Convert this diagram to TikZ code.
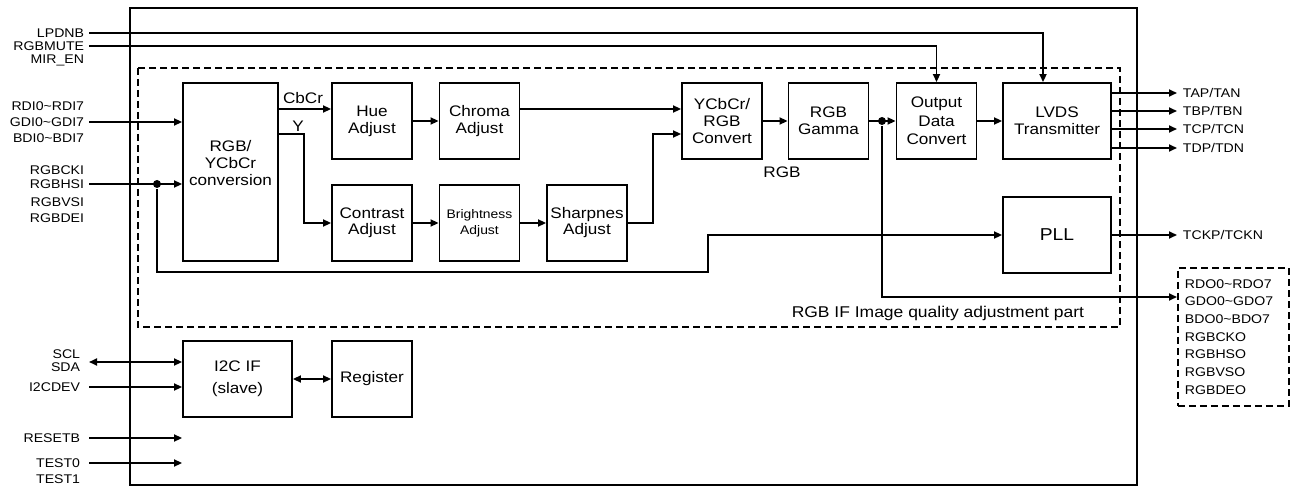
\documentclass[tikz,border=0pt]{standalone}
\usepackage{fontspec}
\setmainfont{Liberation Sans}[FakeStretch=1.12]
\usetikzlibrary{arrows.meta}

\begin{document}
\begin{tikzpicture}[x=1pt, y=-1pt, line width=1.9pt, >={Triangle[length=8pt, width=7pt]},
    blk/.style={draw, align=center, inner sep=0pt, minimum width=80pt, minimum height=76pt,
      font=\fontsize{15.3}{17}\selectfont},
    pin/.style={inner xsep=4pt, inner ysep=1pt, font=\fontsize{12.6}{14}\selectfont},
    rpin/.style={pin, anchor=west, inner xsep=5pt},
    dot/.style={circle, fill=black, inner sep=0pt, minimum size=8pt},
    grp/.style={draw, dash pattern=on 7pt off 4pt}]
      \useasboundingbox (0,0) rectangle (1295,489);

      % chip outline and image quality part
      \draw (130,8) rectangle (1137,485);
      \draw[grp] (138,68) rectangle (1120,327);
      \node[anchor=east, inner sep=0pt, font=\fontsize{15.6}{17}\selectfont] (grplbl) at (1085,313) {RGB IF Image quality adjustment part};

      % blocks
      \node[blk, minimum width=95pt, minimum height=178pt] (conv) at (230.5,172) {RGB/\\YCbCr\\conversion\\[2pt]};
      \node[blk] (hue) at (372,121) {Hue\\Adjust};
      \node[blk] (chroma) at (479.5,121) {Chroma\\Adjust};
      \node[blk, font=\fontsize{15.3}{16}\selectfont] (contrast) at (372,223) {Contrast\\Adjust};
      \node[blk, font=\fontsize{12.4}{16}\selectfont] (bright) at (479.5,223) {Brightness\\Adjust};
      \node[blk, font=\fontsize{15.3}{16}\selectfont] (sharp) at (587,223) {Sharpnes\\Adjust};
      \node[blk] (ycc) at (722,121) {YCbCr/\\RGB\\Convert};
      \node[blk] (gamma) at (828.5,121) {RGB\\Gamma};
      \node[blk, font=\fontsize{15.3}{18.3}\selectfont] (outc) at (936.5,121) {Output\\Data\\Convert};
      \node[blk, minimum width=108pt] (lvds) at (1057,121) {LVDS\\Transmitter};
      \node[blk, minimum width=108pt, font=\fontsize{17.2}{19}\selectfont] (pll) at (1057,235) {PLL};
      \node[blk, minimum width=109pt, font=\fontsize{15.3}{22}\selectfont] (i2c) at (237.5,379) {I2C IF\\(slave)};
      \node[blk] (reg) at (372,379) {Register};

      % internal data path
      \node[font=\fontsize{15.3}{17}\selectfont, inner sep=0pt] (cbcr) at (303,98) {CbCr};
      \node[font=\fontsize{15.3}{17}\selectfont, inner sep=0pt] (ylbl) at (298,126) {Y};
      \draw[->] (conv.east |- 0,109) -- (hue.west |- 0,109);
      \draw[->] (conv.east |- 0,134) -- (304,134) |- (contrast.west);
      \draw[->] (hue) -- (chroma);
      \draw[->] (contrast) -- (bright);
      \draw[->] (bright) -- (sharp);
      \draw[->] (chroma.east |- 0,109) -- (ycc.west |- 0,109);
      \draw[->] (sharp.east) -- (653,223) |- (ycc.west |- 0,134);
      \draw[->] (ycc) -- (gamma);
      \node[font=\fontsize{15.3}{17}\selectfont, inner sep=0pt] (rgblbl) at (782,172) {RGB};
      \node[dot] (gdot) at (882,121) {};
      \draw[->] (gamma) -- (outc);
      \draw[->] (outc) -- (lvds);

      % control inputs
      \node[pin, anchor=east] (lpdnb) at (89,33) {LPDNB};
      \node[pin, anchor=east] (mute) at (89,46) {RGBMUTE};
      \node[pin, anchor=east] (miren) at (89,60) {MIR\_EN};
      \draw[->] (lpdnb.east) -| (lvds.north -| 1043,0);
      \draw[->] (mute.east) -| (outc.north);

      % RGB inputs
      \node[pin, anchor=east] (rdi) at (89,106) {RDI0\textasciitilde RDI7};
      \node[pin, anchor=east] (gdi) at (89,122) {GDI0\textasciitilde GDI7};
      \node[pin, anchor=east] (bdi) at (89,138) {BDI0\textasciitilde BDI7};
      \draw[->] (gdi.east) -- (conv.west |- gdi.east);
      \node[pin, anchor=east] (cki) at (89,170) {RGBCKI};
      \node[pin, anchor=east] (hsi) at (89,184) {RGBHSI};
      \node[pin, anchor=east] (vsi) at (89,202) {RGBVSI};
      \node[pin, anchor=east] (dei) at (89,218) {RGBDEI};
      \draw[->] (hsi.east) -- (conv.west |- hsi.east);
      \node[dot] (hdot) at (157,184) {};
      \draw[->] (hdot) |- (708,272) |- (pll.west);

      % LVDS outputs
      \foreach \yy/\ch in {93/A,111/B,129/C,148/D}{
        \node[rpin] (t\ch) at (1177,\yy) {T\ch P/T\ch N};
        \draw[->] (lvds.east |- t\ch.west) -- (t\ch.west);
      }
      \node[rpin] (tck) at (1177,235) {TCKP/TCKN};
      \draw[->] (pll.east) -- (tck.west);

      % RGB outputs
      \node[grp, anchor=north west, align=left, text width=97pt, inner xsep=7pt, minimum height=138pt,
        font=\fontsize{12.6}{17.7}\selectfont] (rgbdo) at (1177,267)
        {RDO0\textasciitilde RDO7\\GDO0\textasciitilde GDO7\\BDO0\textasciitilde BDO7\\RGBCKO\\RGBHSO\\RGBVSO\\RGBDEO};
      \draw[->] (gdot) |- (rgbdo.west |- 0,297);

      % serial interface, reset, test
      \node[pin, anchor=east, align=right, inner xsep=8pt, font=\fontsize{12.6}{13}\selectfont] (scl) at (89,361) {SCL\\SDA};
      \coordinate (sclend) at (89,362);
      \draw[<->] (sclend) -- (i2c.west |- sclend);
      \node[pin, anchor=east, inner xsep=8pt] (dev) at (89,387) {I2CDEV};
      \draw[->] (dev.east) -- (i2c.west |- dev.east);
      \draw[<->] (i2c) -- (reg);
      \node[pin, anchor=east, inner xsep=8pt] (rst) at (89,438) {RESETB};
      \draw[->] (rst.east) -- (i2c.west |- rst.east);
      \node[pin, anchor=east, inner xsep=8pt] (test0) at (89,463) {TEST0};
      \draw[->] (test0.east) -- (i2c.west |- test0.east);
      \node[pin, anchor=east, inner xsep=8pt] (test1) at (89,479) {TEST1};

    \end{tikzpicture}
\end{document}
